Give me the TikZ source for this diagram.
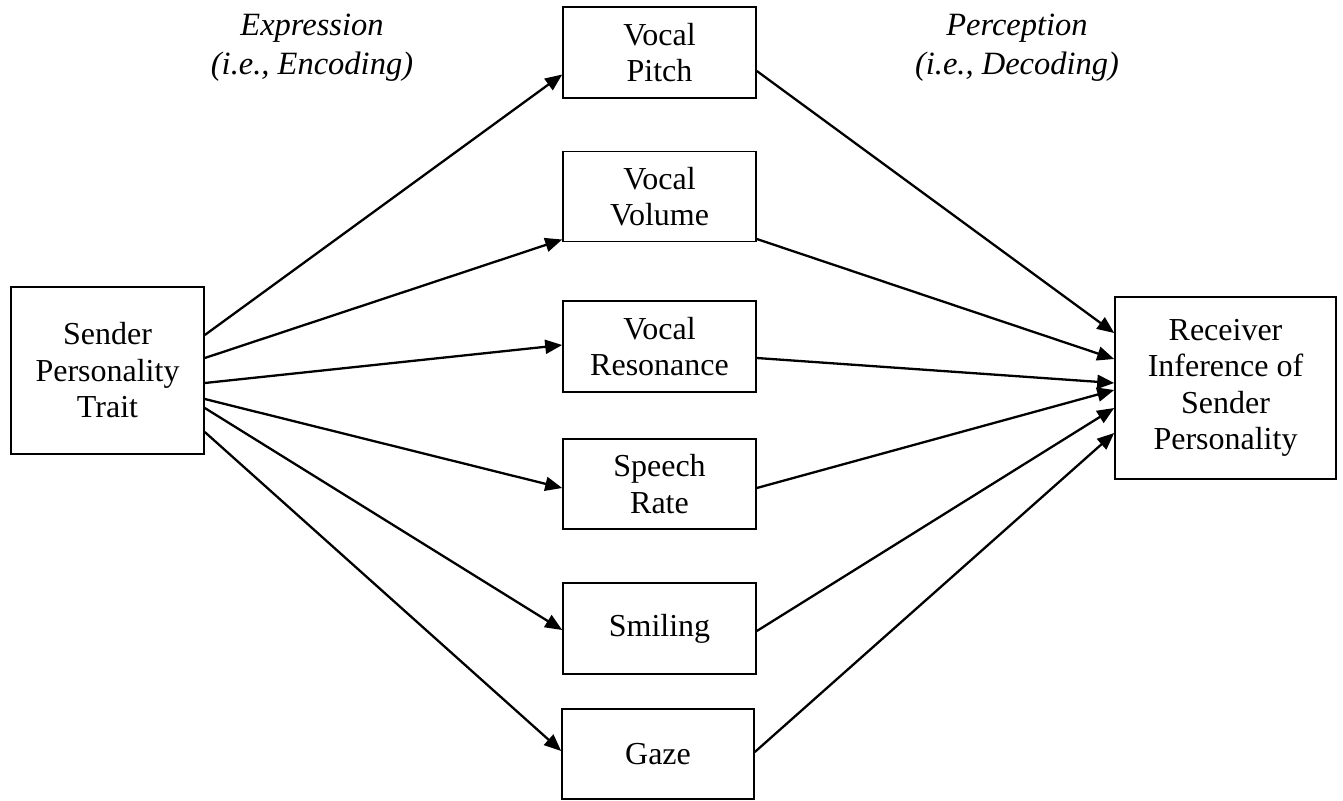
\documentclass[tikz,border=0pt]{standalone}
\usepackage{fontspec}
\setmainfont{Liberation Serif}
\usetikzlibrary{arrows.meta}
\begin{document}
\begin{tikzpicture}[x=1pt,y=-1pt,
  box/.style={draw=black,line width=1.6pt,inner sep=0pt,align=center,
    font=\fontsize{32}{36.5}\selectfont},
  lbl/.style={inner sep=0pt,align=center,font=\fontsize{32.5}{39}\selectfont\itshape},
  arr/.style={line width=2.3pt,-{Triangle[length=17pt,width=14pt]}}]
\useasboundingbox (0,0) rectangle (1343,800);
\node[box,minimum width=193pt,minimum height=167pt] (L) at (107.5,370.5) {Sender\\Personality\\Trait};
\node[box,minimum width=193pt,minimum height=91pt] (P) at (659.5,52.5) {Vocal\\Pitch};
\node[box,minimum width=193pt,minimum height=90pt] (V) at (659.5,196.5) {Vocal\\Volume};
\node[box,minimum width=193pt,minimum height=91pt] (Re) at (659.5,346.5) {Vocal\\Resonance};
\node[box,minimum width=193pt,minimum height=90pt] (S) at (659.5,484) {Speech\\Rate};
\node[box,minimum width=193pt,minimum height=91pt] (Sm) at (659.5,628.5) {Smiling};
\node[box,minimum width=192pt,minimum height=90pt] (G) at (658,754) {Gaze};
\node[box,minimum width=221pt,minimum height=182pt] (R) at (1225.5,388) {Receiver\\Inference of\\Sender\\Personality};
\node[lbl] (E) at (312,48) {Expression\\(i.e., Encoding)};
\node[lbl] (D) at (1017,48) {Perception\\(i.e., Decoding)};
\draw[arr] ([yshift=35.5pt]L.east) -- ([yshift=-22pt]P.west);
\draw[arr] ([yshift=12.5pt]L.east) -- ([yshift=-43pt]V.west);
\draw[arr] ([yshift=-12.5pt]L.east) -- ([yshift=1.5pt]Re.west);
\draw[arr] ([yshift=-28.5pt]L.east) -- ([yshift=-4pt]S.west);
\draw[arr] ([yshift=-37.5pt]L.east) -- ([yshift=-1.5pt]Sm.west);
\draw[arr] ([yshift=-61.5pt]L.east) -- ([yshift=3pt]G.west);
\draw[arr] ([yshift=-18.5pt]P.east) -- ([yshift=55pt]R.west);
\draw[arr] ([yshift=-42.5pt]V.east) -- ([yshift=29pt]R.west);
\draw[arr] ([yshift=-11.5pt]Re.east) -- ([yshift=5pt]R.west);
\draw[arr] ([yshift=-4pt]S.east) -- ([yshift=-2pt]R.west);
\draw[arr] ([yshift=-2.5pt]Sm.east) -- ([yshift=-20pt]R.west);
\draw[arr] ([yshift=2pt]G.east) -- ([yshift=-45pt]R.west);
\end{tikzpicture}
\end{document}
